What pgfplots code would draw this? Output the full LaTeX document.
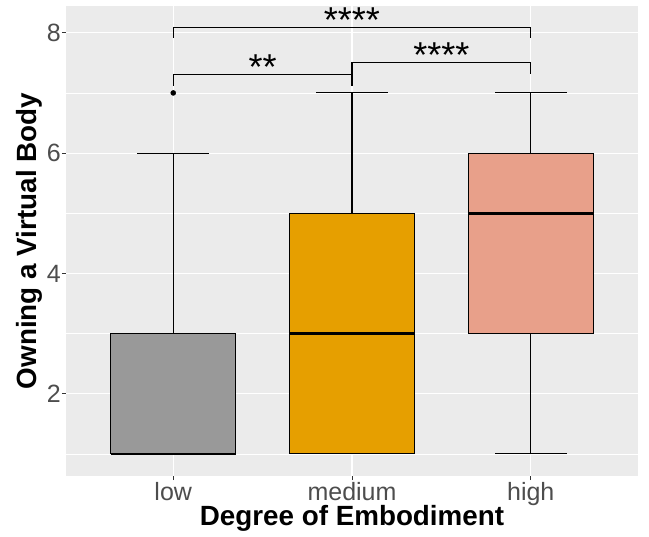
\documentclass[border=0pt]{standalone}
\usepackage{fontspec}
\setmainfont{Liberation Sans}
\usepackage{pgfplots}
\pgfplotsset{compat=1.18}
\usepgfplotslibrary{statistics}
\definecolor{panel}{HTML}{EBEBEB}
\definecolor{lowc}{HTML}{999999}
\definecolor{medc}{HTML}{E69F00}
\definecolor{highc}{HTML}{E8A08A}
\definecolor{ticklab}{HTML}{4D4D4D}
\definecolor{tickc}{HTML}{333333}
\begin{document}
\begin{tikzpicture}
\begin{axis}[
  at={(0,0)}, anchor=south west,
  width=572bp, height=470bp, scale only axis,
  xmin=0.4, xmax=3.6, ymin=0.633, ymax=8.445,
  axis line style={draw=none},
  axis background/.style={fill=panel},
  xtick={1,2,3}, xticklabels={low,medium,high},
  ytick={2,4,6,8}, yticklabels={2,4,6,8},
  minor ytick={1,3,5,7},
  xtick pos=bottom, ytick pos=left,
  grid=both,
  major grid style={white, line width=1.1bp},
  minor grid style={white, line width=0.55bp},
  tick align=outside, major tick length=4bp, minor tick length=0pt,
  tick style={draw=tickc, line width=1bp},
  xticklabel style={font=\fontsize{25bp}{30bp}\selectfont, text=ticklab, anchor=base, yshift=-20bp, inner sep=0pt},
  yticklabel style={font=\fontsize{25bp}{30bp}\selectfont, text=ticklab, anchor=east, xshift=-1bp, inner sep=0pt},
  xlabel={Degree of Embodiment},
  ylabel={Owning a Virtual Body},
  every axis x label/.style={at={(axis description cs:0.5,-0.1043)}, anchor=base, font=\bfseries\fontsize{27.8bp}{32bp}\selectfont, inner sep=0pt},
  every axis y label/.style={at={(axis description cs:-0.0507,0.5)}, rotate=90, anchor=base, font=\bfseries\fontsize{27.8bp}{32bp}\selectfont, inner sep=0pt},
  boxplot/draw direction=y,
  boxplot/every median/.style={line width=2.5bp},
  clip=false,
]
\addplot[boxplot prepared={lower whisker=1, lower quartile=1, median=1, upper quartile=3, upper whisker=6, draw position=1, box extend=0.7, whisker extend=0.4},
  draw=black, fill=lowc, line width=1.1bp, mark=*, mark size=2.5bp, mark options={fill=black, draw=black, line width=0.5bp}]
  table[y index=0] {
7
};
\addplot[boxplot prepared={lower whisker=1, lower quartile=1, median=3, upper quartile=5, upper whisker=7, draw position=2, box extend=0.7, whisker extend=0.4},
  draw=black, fill=medc, line width=1.1bp]
  coordinates {};
\addplot[boxplot prepared={lower whisker=1, lower quartile=3, median=5, upper quartile=6, upper whisker=7, draw position=3, box extend=0.7, whisker extend=0.4},
  draw=black, fill=highc, line width=1.1bp]
  coordinates {};
% significance brackets
\addplot[black, line width=1.1bp, mark=none] coordinates {(1,7.12) (1,7.30) (2,7.30) (2,7.12)};
\addplot[black, line width=1.1bp, mark=none] coordinates {(2,7.12) (2,7.505) (3,7.505) (3,7.32)};
\addplot[black, line width=1.1bp, mark=none] coordinates {(1,7.92) (1,8.09) (3,8.09) (3,7.92)};
\node[font=\fontsize{36bp}{40bp}\selectfont, anchor=base, inner sep=0pt] at (axis cs:1.5,7.22) {**};
\node[font=\fontsize{36bp}{40bp}\selectfont, anchor=base, inner sep=0pt] at (axis cs:2.5,7.42) {****};
\node[font=\fontsize{36bp}{40bp}\selectfont, anchor=base, inner sep=0pt] at (axis cs:2,8.01) {****};
\end{axis}
\pgfresetboundingbox
\path[use as bounding box] (-66bp,-61bp) rectangle (583bp,476bp);
\end{tikzpicture}
\end{document}
